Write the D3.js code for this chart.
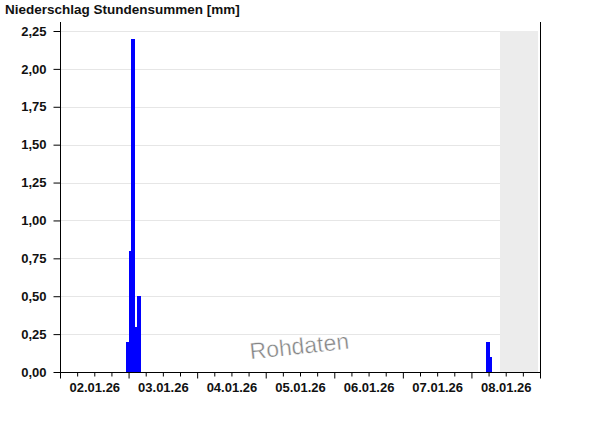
<!DOCTYPE html>
<html>
<head>
<meta charset="utf-8">
<script src="https://cdn.jsdelivr.net/npm/d3@7"></script>
<style>
  body { margin: 0; background: #fff; }
  svg text { font-family: "Liberation Sans", Arial, sans-serif; }
</style>
</head>
<body>
<script>
// hourly precipitation sums (bar start time, mm)
var barTimes = ["02.01.26 23:00", "03.01.26 00:00", "03.01.26 01:00", "03.01.26 02:00", "03.01.26 03:00", "08.01.26 05:00", "08.01.26 06:00"];
var barValues = [0.2, 0.8, 2.2, 0.3, 0.5, 0.2, 0.1];
var yTicks = [0, 0.25, 0.5, 0.75, 1.0, 1.25, 1.5, 1.75, 2.0, 2.25];
var dayLabels = ["02.01.26", "03.01.26", "04.01.26", "05.01.26", "06.01.26", "07.01.26", "08.01.26"];
var rangeStart = "02.01.26 00:00";
var rangeEnd = "09.01.26 00:00";
var noDataFrom = "08.01.26 10:00"; // grey area, no data yet

var width = 600, height = 426;
var plotLeft = 60, plotRight = 540, plotTop = 31, plotBottom = 372;

var parse = d3.timeParse("%d.%m.%y %H:%M");

var svg = d3.select("body").append("svg")
  .attr("width", width)
  .attr("height", height);

var x = d3.scaleTime()
  .domain([parse(rangeStart), parse(rangeEnd)])
  .range([plotLeft, plotRight]);

var y = d3.scaleLinear()
  .domain([0, 2.25])
  .range([plotBottom, plotTop]);

// grey block for the time without data
svg.append("rect")
  .attr("x", x(parse(noDataFrom)))
  .attr("y", y(2.25))
  .attr("width", plotRight - 2 - x(parse(noDataFrom)))
  .attr("height", y(0) - y(2.25))
  .attr("fill", "#ececec");

// grid lines
svg.append("g")
  .selectAll("line")
  .data(yTicks.slice(1))
  .enter()
  .append("line")
  .attr("x1", plotLeft + 1)
  .attr("x2", x(parse(noDataFrom)))
  .attr("y1", d => Math.round(y(d)) + 0.5)
  .attr("y2", d => Math.round(y(d)) + 0.5)
  .attr("stroke", "#e6e6e6");

// watermark
svg.append("text")
  .attr("transform", "translate(300,354) rotate(-6)")
  .attr("text-anchor", "middle")
  .style("font-size", "23px")
  .style("fill", "#858585")
  .style("stroke", "#fff")
  .style("stroke-width", 0.4)
  .text("Rohdaten");

// bars (a bit wider so neighbours join without seams)
var hourW = x(parse("02.01.26 01:00")) - x(parse("02.01.26 00:00"));
svg.append("g")
  .attr("shape-rendering", "crispEdges")
  .selectAll("rect")
  .data(barValues)
  .enter()
  .append("rect")
  .attr("x", (d, i) => x(parse(barTimes[i])))
  .attr("y", d => y(d))
  .attr("width", hourW + 1)
  .attr("height", d => y(0) - y(d))
  .attr("fill", "#0000ff");

// y axis
var yAxis = svg.append("g")
  .attr("transform", "translate(" + (plotLeft + 0.5) + ",0)")
  .call(d3.axisLeft(y)
    .tickValues(yTicks)
    .tickSize(7)
    .tickPadding(7)
    .tickSizeOuter(0)
    .tickFormat(d => d3.format(".2f")(d).replace(".", ",")));
yAxis.select(".domain").remove();
yAxis.selectAll("text")
  .style("font-size", "13px")
  .style("font-weight", "bold")
  .attr("fill", "#111");

// x axis: 6 hour ticks, longer at midnight
var sixHours = d3.timeHour.every(6).range(parse(rangeStart), d3.timeHour.offset(parse(rangeEnd), 1));
var xAxis = svg.append("g")
  .attr("transform", "translate(0," + (plotBottom + 0.5) + ")")
  .call(d3.axisBottom(x)
    .tickValues(sixHours)
    .tickSizeOuter(0)
    .tickFormat(""));
xAxis.select(".domain").remove();
xAxis.selectAll(".tick line")
  .attr("y2", d => d.getHours() == 0 ? 6 : 4);

// day labels centred at noon
var noons = dayLabels.map(d => parse(d + " 12:00"));
var labelAxis = svg.append("g")
  .attr("transform", "translate(0," + plotBottom + ")")
  .call(d3.axisBottom(x)
    .tickValues(noons)
    .tickSize(0)
    .tickPadding(11)
    .tickFormat((d, i) => dayLabels[i]));
labelAxis.select(".domain").remove();
labelAxis.selectAll("text")
  .style("font-size", "13px")
  .style("font-weight", "bold")
  .attr("fill", "#111");

// frame lines
svg.append("line")
  .attr("x1", plotLeft + 0.5).attr("x2", plotLeft + 0.5)
  .attr("y1", 22).attr("y2", plotBottom + 1)
  .attr("stroke", "#000");
svg.append("line")
  .attr("x1", plotRight + 0.5).attr("x2", plotRight + 0.5)
  .attr("y1", 22).attr("y2", plotBottom + 1)
  .attr("stroke", "#000");
svg.append("line")
  .attr("x1", plotLeft).attr("x2", plotRight + 1)
  .attr("y1", plotBottom + 0.5).attr("y2", plotBottom + 0.5)
  .attr("stroke", "#000");

// title
svg.append("text")
  .attr("x", 5)
  .attr("y", 14)
  .style("font-size", "13.5px")
  .style("font-weight", "bold")
  .attr("fill", "#111")
  .text("Niederschlag Stundensummen [mm]");
</script>
</body>
</html>
